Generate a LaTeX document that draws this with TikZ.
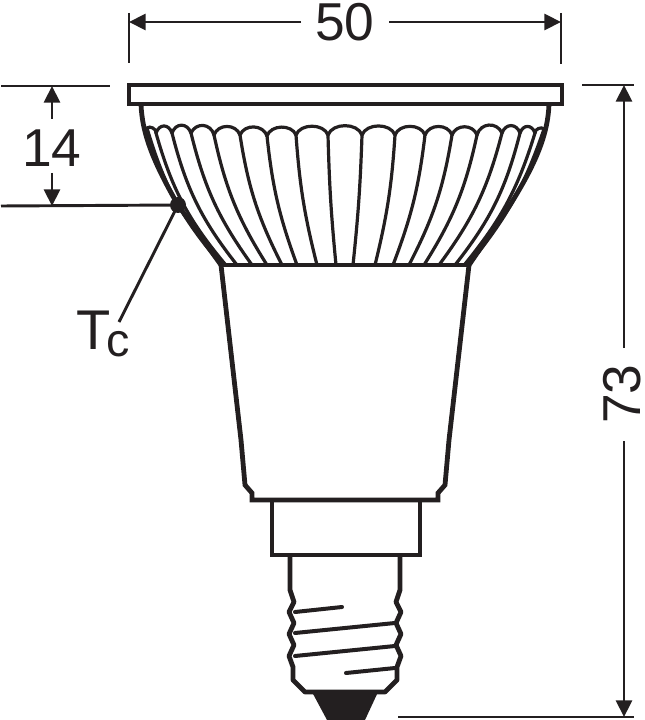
\documentclass[tikz,border=0pt]{standalone}
\usepackage{fontspec}
\setmainfont{Liberation Sans}
\usetikzlibrary{arrows.meta}
\definecolor{ink}{HTML}{231F20}
\tikzset{
  outline/.style={draw=ink,line width=3.6pt,line join=miter},
  rib/.style={draw=ink,line width=2.4pt,line cap=round},
  thread/.style={draw=ink,line width=3pt,line cap=round},
  dim/.style={draw=ink,line width=2.2pt},
  dimarrow/.style={dim,-{Triangle[length=12.5pt,width=12pt,color=ink]}},
  bigtext/.style={text=ink,font=\fontsize{40}{40}\selectfont,inner sep=0pt},
}
\begin{document}
\begin{tikzpicture}[x=0.75pt,y=-0.75pt]
\useasboundingbox (0,0) rectangle (644,720);
% ribs
\foreach \xa/\ya/\xb/\yb/\b in {
 147/128/220/263/12, 156/133/225/264/12, 172/133/237/265/12, 191/133/252/265/11,
 214/135/267/265/10, 240/135/282/265/9, 267/136/297/265/7, 296/135/317/265/5, 328/135/336/265/2}
  \draw[rib] (\xa,\ya) to[bend right=\b] (\xb,\yb);
\foreach \xa/\ya/\xb/\yb/\b in {
 544/129/470/263/10, 535/133/465/264/11, 520/133/455/265/12, 502/133/439/265/11,
 477/135/424/265/10, 452/135/409/265/9, 425/135/393/265/7, 395/135/375/265/5, 362/135/353/265/2}
  \draw[rib] (\xa,\ya) to[bend left=\b] (\xb,\yb);
% scallops
\foreach \xa/\ya/\xb/\yb/\l in {
 147/128/156/133/1.0, 156/133/172/133/1.6, 172/133/191/133/1.5, 191/133/214/135/1.35,
 214/135/240/135/1.2, 240/135/267/136/1.15, 267/136/296/135/1.05, 296/135/328/135/1.0,
 328/135/362/135/1.0, 362/135/395/135/1.0, 395/135/425/135/1.05, 425/135/452/135/1.15,
 452/135/477/135/1.2, 477/135/502/133/1.3, 502/133/520/133/1.5, 520/133/535/133/1.6,
 535/133/544/129/1.0}
  \draw[rib] (\xa,\ya) to[bend left=70,looseness=\l] (\xb,\yb);
% bowl
\draw[outline] (141,104) .. controls (142,135) and (155,165) .. (178,205) -- (221,265);
\draw[outline] (549,104) .. controls (548,135) and (535,165) .. (510,205) -- (469,265);
\draw[rib] (221,265) -- (469,265);
% rim
\draw[outline] (129,85) rectangle (562,104);
% body
\draw[outline] (221,265) -- (241,440) -- (245,485) -- (252,493) -- (252,500) -- (438,500)
  -- (438,493) -- (445,485) -- (449,440) -- (469,265);
% collar
\draw[outline] (272,500) -- (272,555) -- (420,555) -- (420,500);
% screw
\draw[outline,line join=round] (290,555) -- (290,590) -- (294,602) -- (289,612) -- (294,623) -- (289,634)
  -- (294,645) -- (289,656) -- (293,667) -- (293,680) -- (305,692) -- (385,692) -- (397,680)
  -- (397,667) -- (401,656) -- (396,645) -- (401,634) -- (396,623) -- (401,612) -- (396,602)
  -- (400,590) -- (400,555);
\draw[thread] (295,612) -- (342,607);
\draw[thread] (295,633) -- (395,623);
\draw[thread] (295,656) -- (395,646);
\draw[thread] (346,673) -- (395,668);
\fill[ink] (312,692) -- (327,720) -- (365,720) -- (378,692) -- cycle;
% top dimension
\coordinate (tl) at (129,22); \coordinate (tr) at (561,22);
\node[bigtext] (w50) at (345,22) {50};
\draw[dim] (129,13) -- (129,63);
\draw[dim] (561,13) -- (561,64);
\draw[dimarrow] (301,22) -- (tl);
\draw[dimarrow] (389,22) -- (tr);
% left dimension
\coordinate (lt) at (52,86); \coordinate (lb) at (52,206);
\node[circle,fill=ink,inner sep=0pt,minimum size=12pt] (tc) at (178,205) {};
\node[bigtext] (h14) at (52,148) {14};
\draw[dim] (1,86) -- (110,86);
\draw[dim] (1,206) -- (tc.center);
\draw[dimarrow] (52,119) -- (lt);
\draw[dimarrow] (52,173) -- (lb);
% Tc
\node[bigtext,anchor=base west,font=\fontsize{42}{42}\selectfont] (tclabel) at (76,349)
  {T\kern-3pt\raisebox{-5.25pt}{\fontsize{35}{35}\selectfont c}};
\coordinate (lead) at (119,322);
\draw[dim] (tc.center) -- (lead);
% right dimension
\coordinate (rt) at (624,85); \coordinate (rb) at (624,717);
\draw[dim] (582,85) -- (634,85);
\draw[dim] (398,717) -- (634,717);
\node[bigtext,rotate=90] (h73) at (622,394) {73};
\draw[dimarrow] (624,348) -- (rt);
\draw[dimarrow] (624,441) -- (rb);
\end{tikzpicture}
\end{document}
